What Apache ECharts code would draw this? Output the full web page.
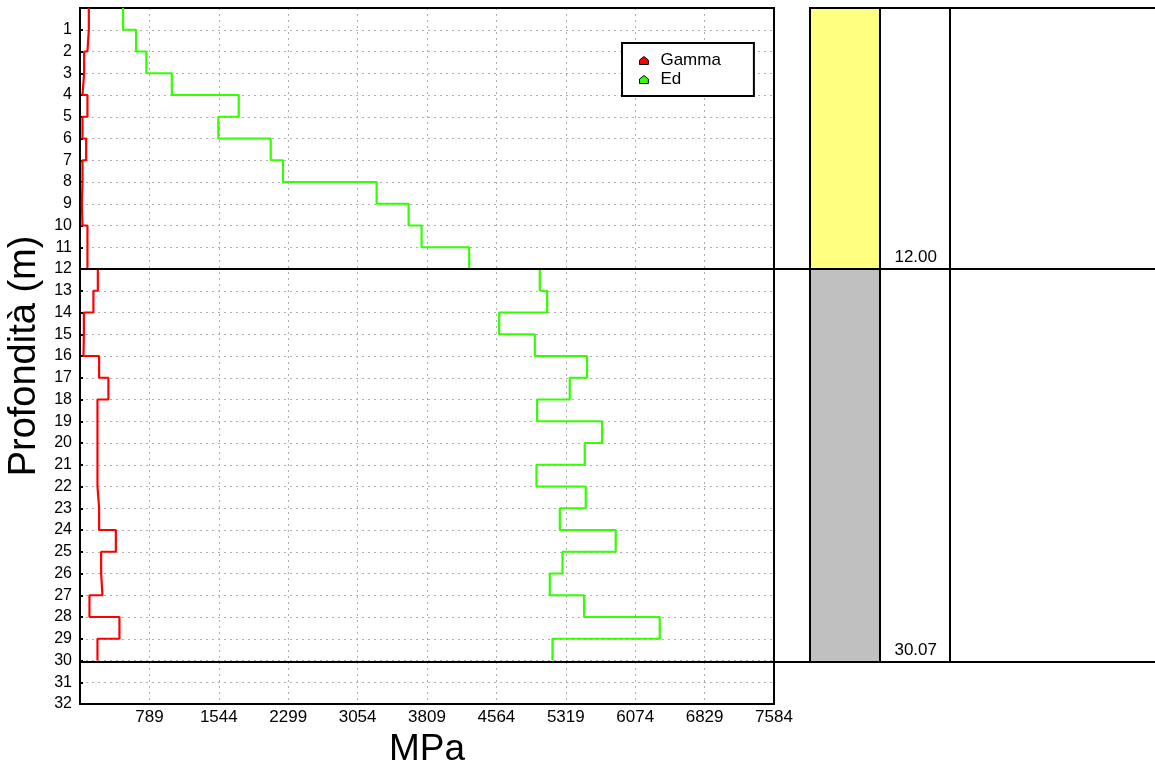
<!DOCTYPE html>
<html><head><meta charset="utf-8">
<script src="https://cdn.jsdelivr.net/npm/echarts@6/dist/echarts.min.js"></script>
<style>html,body{margin:0;padding:0;background:#fff}#c{width:1155px;height:769px}</style>
</head><body><div id="c"></div>
<script>
// Depth layers (m) : each value applies from depth i to i+1
const depthTicks = Array.from({length: 32}, (_, i) => String(i + 1));
const gammaValues = [130, 115, 79, 61, 115, 61, 101, 61, 54, 61, 115, 115,
  228, 180, 76, 72, 242, 343, 224, 224, 224, 224, 242, 242, 424, 264, 278, 137, 463, 224];
const edValues = [503, 644, 756, 1033, 1761, 1539, 2109, 2242, 3261, 3609, 3750, 4268,
  5036, 5116, 4594, 4982, 5550, 5362, 5007, 5714, 5525, 5000, 5536, 5254, 5862, 5283, 5145, 5518, 6341, 5174];
const xTickLabels = ['789', '1544', '2299', '3054', '3809', '4564', '5319', '6074', '6829', '7584'];
const layerTops = [0, 12];
const layerBottoms = [12, 30.07];
const layerLabels = ['12.00', '30.07'];
const seriesNames = ['Gamma', 'Ed'];

const FONT = "'Liberation Sans', Arial, sans-serif";
const layerFill = ['#ffff80', '#c0c0c0'];

function stepPoints(vals) {
  const pts = [];
  vals.forEach((v, i) => { pts.push([v, i]); pts.push([v, i + 1]); });
  return pts;
}

const chart = echarts.init(document.getElementById('c'), null, {renderer: 'canvas'});
const option = {
  animation: false,
  backgroundColor: '#fff',
  textStyle: {fontFamily: FONT},
  legend: {
    data: seriesNames,
    orient: 'vertical',
    left: 622, top: 43,
    backgroundColor: '#fff',
    borderColor: '#000', borderWidth: 2, borderRadius: 0,
    padding: [9, 33, 8, 17],
    itemWidth: 9, itemHeight: 8, itemGap: 2,
    icon: 'path://M0,4 L5,0 L10,4 L10,9 L0,9 Z',
    itemStyle: {borderColor: '#000', borderWidth: 1},
    textStyle: {fontFamily: FONT, fontSize: 17, color: '#000', lineHeight: 16, padding: [0, 0, 0, 7]}
  },
  grid: [
    {left: 80, right: 381, top: 8, bottom: 65, show: true, borderColor: '#000', borderWidth: 2,
      containLabel: false, outerBoundsMode: 'none'},
    {left: 810, right: 0, top: 8, bottom: 65, show: false, containLabel: false, outerBoundsMode: 'none'}
  ],
  xAxis: [
    {
      gridIndex: 0, type: 'value', min: 34, max: 7584, interval: 755,
      name: 'MPa', nameLocation: 'middle', nameGap: 22,
      nameTextStyle: {fontFamily: FONT, fontSize: 37, color: '#000'},
      axisLine: {show: true, lineStyle: {color: '#000', width: 2}},
      axisTick: {show: false},
      axisLabel: {
        showMinLabel: false, showMaxLabel: true, margin: 5,
        fontFamily: FONT, fontSize: 17, color: '#000',
        formatter: v => { const s = String(Math.round(v)); return xTickLabels.includes(s) ? s : ''; }
      },
      splitLine: {show: true, showMinLine: false, showMaxLine: false,
        lineStyle: {color: '#b0b0b0', type: [2, 4], width: 1}}
    },
    {gridIndex: 1, type: 'value', min: 0, max: 1, show: false}
  ],
  yAxis: [
    {
      gridIndex: 0, type: 'value', inverse: true, min: 0, max: 32, interval: 1,
      name: 'Profondità (m)', nameLocation: 'middle', nameGap: 34, nameRotate: 90,
      nameTextStyle: {fontFamily: FONT, fontSize: 38, color: '#000'},
      axisLine: {show: true, lineStyle: {color: '#000', width: 2}},
      axisTick: {show: true, inside: true, length: 3, lineStyle: {color: '#000', width: 2}},
      axisLabel: {
        showMinLabel: false, showMaxLabel: true, margin: 8,
        fontFamily: FONT, fontSize: 16, color: '#000',
        formatter: v => { const s = String(Math.round(v)); return depthTicks.includes(s) ? s : ''; }
      },
      splitLine: {show: true, showMinLine: false, showMaxLine: false,
        lineStyle: {color: '#b0b0b0', type: [2, 4], width: 1}}
    },
    {gridIndex: 1, type: 'value', inverse: true, min: 0, max: 32, show: false}
  ],
  series: [
    {
      name: seriesNames[0], type: 'line', xAxisIndex: 0, yAxisIndex: 0,
      data: stepPoints(gammaValues), showSymbol: false, symbol: 'none',
      color: '#ff0000', lineStyle: {color: '#ff0000', width: 2.2}, z: 3
    },
    {
      name: seriesNames[1], type: 'line', xAxisIndex: 0, yAxisIndex: 0,
      data: stepPoints(edValues), showSymbol: false, symbol: 'none',
      color: '#33ff00', lineStyle: {color: '#33ff00', width: 2.2}, z: 3,
      markLine: {
        silent: true, symbol: ['none', 'none'], label: {show: false},
        lineStyle: {color: '#000', width: 2, type: 'solid'},
        data: layerBottoms.map(d => ({yAxis: d}))
      }
    },
    {
      type: 'custom', xAxisIndex: 1, yAxisIndex: 1, silent: true, clip: false,
      data: layerTops.map((t, i) => [t, layerBottoms[i]]),
      renderItem: function (params, api) {
        const top = api.value(0), bot = api.value(1);
        const y0 = api.coord([0, top])[1];
        const y1 = api.coord([0, bot])[1];
        const cs = params.coordSys;
        const x0 = cs.x;
        const i = params.dataIndex;
        return {
          type: 'group',
          children: [
            {type: 'rect', shape: {x: x0 + 140, y: y0, width: cs.width + 20, height: y1 - y0},
              style: {fill: '#fff', stroke: '#000', lineWidth: 2}},
            {type: 'rect', shape: {x: x0 + 70, y: y0, width: 70, height: y1 - y0},
              style: {fill: '#fff', stroke: '#000', lineWidth: 2}},
            {type: 'rect', shape: {x: x0, y: y0, width: 70, height: y1 - y0},
              style: {fill: layerFill[i % layerFill.length], stroke: '#000', lineWidth: 2}},
            {type: 'line', shape: {x1: x0 - 37, y1: y1, x2: x0, y2: y1},
              style: {stroke: '#000', lineWidth: 2}},
            {type: 'text', x: x0 + 127, y: y1 - 3,
              style: {text: layerLabels[i], fill: '#000', font: '17px ' + FONT, align: 'right', verticalAlign: 'bottom'}}
          ]
        };
      }
    }
  ]
};
chart.setOption(option);
</script>
</body></html>
